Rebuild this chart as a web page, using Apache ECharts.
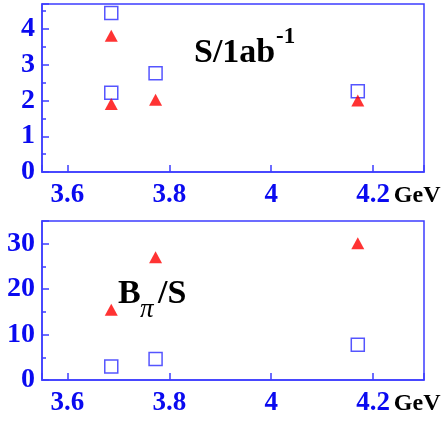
<!DOCTYPE html>
<html><head><meta charset="utf-8">
<script src="https://cdn.jsdelivr.net/npm/echarts@6/dist/echarts.min.js"></script>
<style>html,body{margin:0;padding:0;background:#fff}#c{width:444px;height:428px}</style>
</head><body><div id="c"></div>
<script>
// Energies (GeV)
var energies = [3.686, 3.773, 4.17];
// Top panel: S / 1 ab^-1
var topSquares = [4.45, 2.76, 2.26];
var topSquaresExtra = [[3.686, 2.22]];
var topTriangles = [3.81, 2.02, 2.0];
var topTrianglesExtra = [[3.686, 1.90]];
// Bottom panel: B_pi / S
var botSquares = [2.95, 4.6, 7.74];
var botTriangles = [15.45, 27.0, 30.1];

var AX = '#3c3cff', LB = '#0a0af0', RED = '#ff0000';
var SERIF = '"Liberation Serif","Times New Roman",serif';

function pts(vals, extra) {
  var a = energies.map(function (e, i) { return [e, vals[i]]; });
  return a.concat(extra || []);
}
function xAxis(gi) {
  return {
    type: 'value', gridIndex: gi, min: 3.55, max: 4.3, splitNumber: 4,
    axisLine: { show: true, lineStyle: { color: AX, width: 1.5 } },
    axisTick: { show: true, inside: true, length: 7, lineStyle: { color: AX, width: 1.5 } },
    splitLine: { show: false },
    axisLabel: {
      margin: 10, color: LB, fontFamily: SERIF, fontWeight: 'bold', fontSize: 27,
      formatter: function (v) {
        if (Math.abs(v * 5 - Math.round(v * 5)) > 1e-6) return '';
        return String(Math.round(v * 10) / 10);
      }
    },
    name: 'GeV', nameLocation: 'end', nameGap: -31,
    nameTextStyle: { color: '#000', fontFamily: SERIF, fontWeight: 'bold', fontSize: 24,
      align: 'left', verticalAlign: 'top', lineHeight: 48 }
  };
}
function yMajor(gi, max, iv) {
  return {
    type: 'value', gridIndex: gi, min: 0, max: max, interval: iv, position: 'left',
    axisLine: { show: true, lineStyle: { color: AX, width: 1.5 } },
    axisTick: { show: true, inside: true, length: 7, lineStyle: { color: AX, width: 1.5 } },
    splitLine: { show: false },
    axisLabel: {
      margin: 7, color: LB, fontFamily: SERIF, fontWeight: 'bold', fontSize: 28,
      formatter: function (v) {
        if (Math.abs(v / iv - Math.round(v / iv)) > 1e-6) return '';
        return String(Math.round(v));
      }
    }
  };
}
function yMinor(gi, max, iv) {
  return {
    type: 'value', gridIndex: gi, min: 0, max: max, interval: iv, position: 'left',
    axisLine: { show: false },
    axisTick: { show: true, inside: true, length: 4, lineStyle: { color: AX, width: 1.5 } },
    splitLine: { show: false },
    axisLabel: { show: false }
  };
}
function sq(name, xi, yi, data) {
  return { name: name, type: 'scatter', xAxisIndex: xi, yAxisIndex: yi, data: data,
    symbol: 'rect', symbolSize: 13,
    itemStyle: { color: 'rgba(255,255,255,0)', borderColor: '#2a2aff', borderWidth: 1.5 } };
}
function tri(name, xi, yi, data) {
  return { name: name, type: 'scatter', xAxisIndex: xi, yAxisIndex: yi, data: data,
    symbol: 'triangle', symbolSize: [13, 12], itemStyle: { color: RED } };
}

var chart = echarts.init(document.getElementById('c'), null, { renderer: 'canvas' });
chart.setOption({
  animation: false,
  backgroundColor: '#fff',
  grid: [
    { left: 42, right: 20, top: 4, height: 168, show: true, borderColor: AX, borderWidth: 1.5, backgroundColor: 'transparent' },
    { left: 42, right: 20, top: 221, height: 166, show: true, borderColor: AX, borderWidth: 1.5, backgroundColor: 'transparent' }
  ],
  xAxis: [xAxis(0), xAxis(1)],
  yAxis: [yMajor(0, 4.7, 1), yMinor(0, 4.7, 0.5), yMajor(1, 35, 10), yMinor(1, 35, 5)],
  series: [
    sq('S squares', 0, 0, pts(topSquares, topSquaresExtra)),
    tri('S triangles', 0, 0, pts(topTriangles, topTrianglesExtra)),
    sq('B squares', 1, 2, pts(botSquares)),
    tri('B triangles', 1, 2, pts(botTriangles))
  ],
  graphic: [
    { type: 'text', z: 100, style: { text: 'S/1ab', x: 194, y: 53.5, fill: '#000', font: 'bold 34px ' + SERIF, verticalAlign: 'middle' } },
    { type: 'text', z: 100, style: { text: '-1', x: 276, y: 37.2, fill: '#000', font: 'bold 23px ' + SERIF, verticalAlign: 'middle' } },
    { type: 'text', z: 100, style: { text: 'B', x: 118, y: 294.5, fill: '#000', font: 'bold 34px ' + SERIF, verticalAlign: 'middle' } },
    { type: 'text', z: 100, style: { text: 'π', x: 140, y: 310, fill: '#000', font: 'italic 27px ' + SERIF, verticalAlign: 'middle' } },
    { type: 'text', z: 100, style: { text: '/S', x: 158, y: 294.5, fill: '#000', font: 'bold 34px ' + SERIF, verticalAlign: 'middle' } }
  ]
});
</script></body></html>
